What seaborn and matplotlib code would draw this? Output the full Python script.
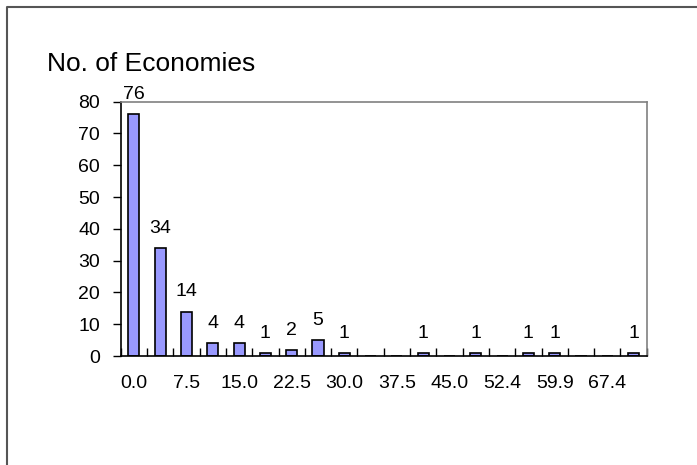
import numpy as np
import matplotlib
matplotlib.use('Agg')
import matplotlib.pyplot as plt
from matplotlib.lines import Line2D
import pandas as pd
import seaborn as sns

# intervalos (etiquetas del eje x) y numero de economias por intervalo
bins = ['0.0', '3.7', '7.5', '11.2', '15.0', '18.7', '22.5', '26.2', '30.0', '33.7',
        '37.5', '41.2', '45.0', '48.7', '52.4', '56.2', '59.9', '63.6', '67.4', '71.1']
counts = [76, 34, 14, 4, 4, 1, 2, 5, 1, 0, 0, 1, 0, 1, 0, 1, 1, 0, 0, 1]
y_ticks = [0, 10, 20, 30, 40, 50, 60, 70, 80]

data = pd.DataFrame({'bin': bins, 'count': counts})

sns.set_style('white')
plt.rcParams['font.family'] = ['Liberation Sans', 'DejaVu Sans']
plt.rcParams['text.color'] = 'black'
plt.rcParams['xtick.color'] = 'black'
plt.rcParams['ytick.color'] = 'black'

fig = plt.figure(figsize=(6.97, 4.65), dpi=100)
ax = fig.add_axes([0.1732, 0.2344, 0.7547, 0.5469])

sns.barplot(data=data, x='bin', y='count', ax=ax, color='#9999FF',
            saturation=1, width=0.42, edgecolor='black', linewidth=1.2)

# etiquetas de valor sobre las barras (solo las que no son cero)
ax.bar_label(ax.containers[0], labels=[str(c) if c else '' for c in counts],
             padding=8, fontsize=14, color='black')

ax.set_xlim(-0.5, len(bins) - 0.5)
ax.set_ylim(0, 80)
ax.set_yticks(y_ticks)
ax.set_yticklabels([str(t) for t in y_ticks], fontsize=14)
ax.tick_params(axis='y', direction='out', length=6, width=1, pad=9, left=True,
               colors='black')

# solo se muestra una etiqueta de cada dos en el eje x
ax.set_xticks(range(len(bins)))
ax.set_xticklabels([b if i % 2 == 0 else '' for i, b in enumerate(bins)], fontsize=14)
ax.tick_params(axis='x', which='major', length=0, pad=14, colors='black')
ax.set_xticks(np.arange(-0.5, len(bins), 1), minor=True)
ax.tick_params(axis='x', which='minor', direction='in', length=6, width=1, bottom=True,
               colors='black')

ax.set_xlabel('')
ax.set_ylabel('')
for s in ['left', 'bottom']:
    ax.spines[s].set_color('black')
    ax.spines[s].set_linewidth(1.2)
for s in ['top', 'right']:
    ax.spines[s].set_color('#808080')
    ax.spines[s].set_linewidth(1.2)

fig.text(47 / 697, 1 - 71 / 465, 'No. of Economies', fontsize=19, ha='left',
         va='baseline', color='black')

# marco exterior (solo arriba e izquierda visibles)
x0 = 7 / 697
y0 = 1 - 7 / 465
fig.add_artist(Line2D([x0, x0, 1], [0, y0, y0], transform=fig.transFigure,
                      color='#555555', linewidth=1.5))

fig.savefig('out.png', dpi=100)
